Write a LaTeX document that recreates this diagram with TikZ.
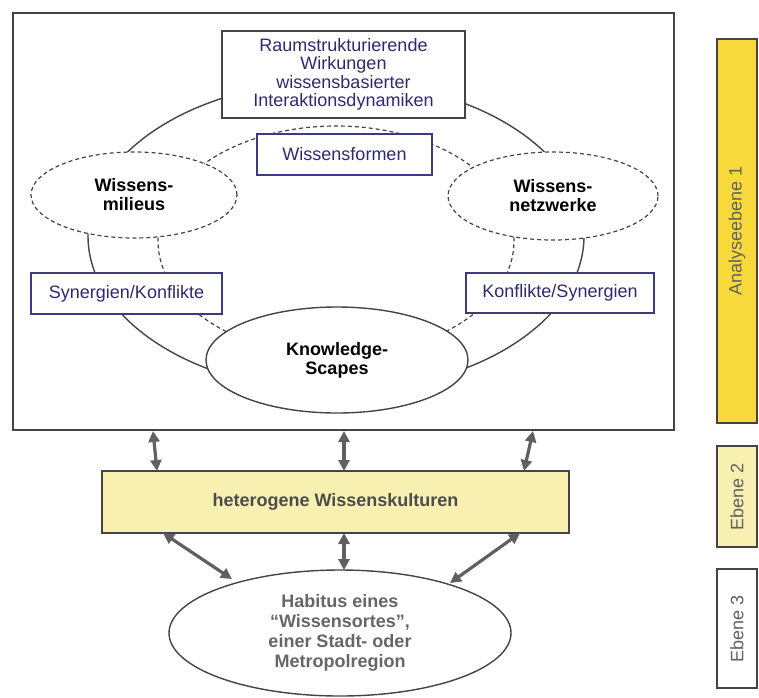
\documentclass[tikz,border=0pt]{standalone}
\usepackage{fontspec}
\setmainfont{Liberation Sans}
\usetikzlibrary{shapes.geometric,arrows.meta}
\definecolor{navy}{HTML}{2D2B6E}
\definecolor{navyline}{HTML}{3D3B80}
\definecolor{lineg}{HTML}{444444}
\definecolor{arrg}{HTML}{606060}
\definecolor{goldbar}{HTML}{F8D93C}
\definecolor{paleyel}{HTML}{F8F0B0}
\tikzset{
  base/.style={font=\fontsize{18}{19}\selectfont, align=center, inner sep=0pt},
  navybox/.style={base, draw=navyline, line width=1.3pt, fill=white, text=navy},
  dashell/.style={base, ellipse, draw=lineg, line width=1.2pt, dash pattern=on 4pt off 3pt, fill=white, font=\fontsize{18}{19}\selectfont\bfseries},
  solell/.style={base, ellipse, draw=lineg, line width=1.4pt, fill=white},
  sidebar/.style={base, draw=lineg, line width=1.3pt, minimum width=40pt, text=black!62},
  arr/.style={line width=3.2pt, draw=arrg, fill=arrg, arrows={Triangle[length=11pt,width=11pt]-Triangle[length=11pt,width=11pt]}},
}
\begin{document}
\begin{tikzpicture}[x=1pt,y=-1pt]
\useasboundingbox (0,0) rectangle (759,697);
% frame
\node[draw=lineg, line width=1.6pt, minimum width=661pt, minimum height=417pt, inner sep=0pt] (frame) at (343.5,221.5) {};
% big ellipses
\draw[lineg, line width=1.4pt] (336,236) ellipse [x radius=248pt, y radius=155pt];
\draw[lineg, line width=1.2pt, dash pattern=on 4pt off 3pt] (336,241) ellipse [x radius=178pt, y radius=115pt];
% nodes
\node[navybox, draw=lineg, minimum width=243pt, minimum height=87pt, font=\fontsize{18}{18.5}\selectfont] (top) at (343.5,74.5) {Raumstrukturierende\\Wirkungen\\wissensbasierter\\Interaktionsdynamiken};
\node[navybox, minimum width=175pt, minimum height=41pt] (formen) at (344.5,154.5) {Wissensformen};
\node[dashell, minimum width=206pt, minimum height=86pt] (milieus) at (134,195) {Wissens-\\milieus};
\node[dashell, minimum width=210pt, minimum height=88pt] (netz) at (553,196) {Wissens-\\netzwerke};
\node[navybox, minimum width=191pt, minimum height=41pt] (synk) at (126.5,293.5) {Synergien/Konflikte};
\node[navybox, minimum width=188pt, minimum height=40pt] (konfs) at (560,293) {Konflikte/Synergien};
\node[solell, minimum width=262pt, minimum height=106pt, font=\fontsize{18}{19}\selectfont\bfseries] (ks) at (337,360) {Knowledge-\\Scapes};
% level 2 and 3
\node[base, draw=lineg, line width=1.4pt, fill=paleyel, minimum width=467pt, minimum height=62pt, text=black!70, font=\fontsize{18}{19}\selectfont\bfseries] (kult) at (335.5,502) {heterogene Wissenskulturen};
\node[solell, minimum width=342pt, minimum height=126pt, text=black!60, font=\fontsize{18}{20}\selectfont\bfseries] (hab) at (340,633) {Habitus eines\\``Wissensortes'',\\einer Stadt- oder\\Metropolregion};
% arrow end points
\coordinate (f1) at (153,431);
\coordinate (f2) at (344,431);
\coordinate (f3) at (533,431);
\coordinate (k1) at (157,471);
\coordinate (k2) at (344,471);
\coordinate (k3) at (524,471);
\coordinate (k4) at (163,533);
\coordinate (k5) at (344,533);
\coordinate (k6) at (520,533);
\coordinate (h1) at (232,579);
\coordinate (h2) at (344,570);
\coordinate (h3) at (450,583);
\draw[arr] (f1) -- (k1);
\draw[arr] (f2) -- (k2);
\draw[arr] (f3) -- (k3);
\draw[arr] (k4) -- (h1);
\draw[arr] (k5) -- (h2);
\draw[arr] (k6) -- (h3);
% side bars
\node[sidebar, fill=goldbar, minimum height=384pt] (e1) at (737,231) {\rotatebox{90}{Analyseebene 1}};
\node[sidebar, fill=paleyel, minimum height=101pt] (e2) at (737,496.5) {\rotatebox{90}{Ebene 2}};
\node[sidebar, fill=white, minimum height=119pt] (e3) at (737,628.5) {\rotatebox{90}{Ebene 3}};
\end{tikzpicture}
\end{document}
